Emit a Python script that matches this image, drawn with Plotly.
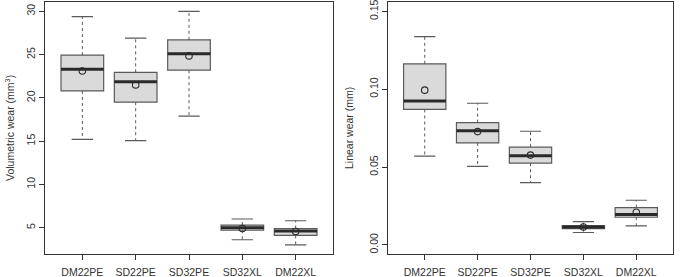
import plotly.graph_objects as go

categories = ["DM22PE", "SD22PE", "SD32PE", "SD32XL", "DM22XL"]

vol_lower = [15.2, 15.05, 17.9, 3.6, 3.0]
vol_q1 = [20.8, 19.5, 23.2, 4.7, 4.1]
vol_median = [23.3, 21.85, 25.1, 5.0, 4.6]
vol_q3 = [24.95, 22.95, 26.7, 5.3, 4.9]
vol_upper = [29.4, 26.9, 30.0, 6.0, 5.8]
vol_mean = [23.1, 21.5, 24.85, 4.9, 4.55]

lin_lower = [0.057, 0.0505, 0.040, 0.008, 0.0122]
lin_q1 = [0.087, 0.0655, 0.0525, 0.0105, 0.0178]
lin_median = [0.0925, 0.0733, 0.0573, 0.0115, 0.0195]
lin_q3 = [0.1163, 0.0785, 0.0628, 0.0124, 0.024]
lin_upper = [0.1338, 0.091, 0.073, 0.015, 0.0287]
lin_mean = [0.0994, 0.0728, 0.0577, 0.0115, 0.021]

vol_ticks = [5, 10, 15, 20, 25, 30]
lin_ticks = [0.00, 0.05, 0.10, 0.15]

BOX_W = 0.8
CAP_HALF = 0.2
FILL = "#DADADA"
EDGE = "#5A5A5A"
DARK = "#2A2A2A"
FONT = "Liberation Sans, Arial, sans-serif"

fig = go.Figure()


def add_panel(lower, q1, med, q3, upper, mean, xa, ya):
    pos = list(range(1, len(categories) + 1))
    for i, p in enumerate(pos):
        fig.add_trace(go.Box(
            x=[p], q1=[q1[i]], median=[med[i]], q3=[q3[i]],
            lowerfence=[q1[i]], upperfence=[q3[i]],
            width=BOX_W, fillcolor=FILL, line=dict(color=EDGE, width=1.2),
            whiskerwidth=0, boxpoints=False, showlegend=False,
            xaxis=xa, yaxis=ya, hoverinfo="skip"))
    wx, wy, cx, cy, mx, my = [], [], [], [], [], []
    for i, p in enumerate(pos):
        wx += [p, p, None, p, p, None]
        wy += [q3[i], upper[i], None, q1[i], lower[i], None]
        cx += [p - CAP_HALF, p + CAP_HALF, None, p - CAP_HALF, p + CAP_HALF, None]
        cy += [upper[i], upper[i], None, lower[i], lower[i], None]
        mx += [p - BOX_W / 2, p + BOX_W / 2, None]
        my += [med[i], med[i], None]
    fig.add_trace(go.Scatter(x=wx, y=wy, mode="lines",
                             line=dict(color=EDGE, width=1, dash="3px,3px"),
                             showlegend=False, xaxis=xa, yaxis=ya, hoverinfo="skip"))
    fig.add_trace(go.Scatter(x=cx, y=cy, mode="lines",
                             line=dict(color=EDGE, width=1.2),
                             showlegend=False, xaxis=xa, yaxis=ya, hoverinfo="skip"))
    fig.add_trace(go.Scatter(x=mx, y=my, mode="lines",
                             line=dict(color=DARK, width=3),
                             showlegend=False, xaxis=xa, yaxis=ya, hoverinfo="skip"))
    fig.add_trace(go.Scatter(x=pos, y=mean, mode="markers",
                             marker=dict(symbol="circle-open", size=6.5,
                                         line=dict(color=DARK, width=1.1), color=DARK),
                             showlegend=False, xaxis=xa, yaxis=ya, hoverinfo="skip"))


add_panel(vol_lower, vol_q1, vol_median, vol_q3, vol_upper, vol_mean, "x", "y")
add_panel(lin_lower, lin_q1, lin_median, lin_q3, lin_upper, lin_mean, "x2", "y2")

axis_common = dict(showline=True, linecolor="#333333", linewidth=1, mirror=True,
                   showgrid=False, zeroline=False, ticks="outside", ticklen=5,
                   tickcolor="#333333", tickfont=dict(family=FONT, size=10.5, color="#333333"),
                   automargin=False, ticklabeloverflow="allow")

ydom = [22.7 / 277, 275 / 277]

fig.update_layout(
    width=680, height=277,
    margin=dict(l=0, r=0, t=0, b=0),
    paper_bgcolor="white", plot_bgcolor="white",
    font=dict(family=FONT, size=10, color="#333333"),
    xaxis=dict(domain=[45 / 680, 333 / 680], range=[0.3, 5.7], ticklabelstandoff=3,
               tickvals=list(range(1, 6)), ticktext=categories, anchor="y", **axis_common),
    yaxis=dict(domain=ydom, range=[1.92, 31.08], tickvals=vol_ticks,
               tickangle=-90, anchor="x", **axis_common),
    xaxis2=dict(domain=[387.7 / 680, 673.3 / 680], range=[0.3, 5.7], ticklabelstandoff=3,
                tickvals=list(range(1, 6)), ticktext=categories, anchor="y2", **axis_common),
    yaxis2=dict(domain=ydom, range=[-0.006, 0.156], tickvals=lin_ticks,
                tickformat=".2f", tickangle=-90, anchor="x2", **axis_common),
    annotations=[
        dict(text="Volumetric wear (mm<sup>3</sup>)", textangle=-90, x=9 / 680, y=1 - 128 / 277,
             xref="paper", yref="paper", showarrow=False, xanchor="center", yanchor="middle",
             font=dict(family=FONT, size=10.5, color="#333333")),
        dict(text="Linear wear (mm)", textangle=-90, x=349 / 680, y=1 - 128 / 277,
             xref="paper", yref="paper", showarrow=False, xanchor="center", yanchor="middle",
             font=dict(family=FONT, size=10.5, color="#333333")),
    ],
)

fig.write_html("out.html", config={"displayModeBar": False},
               post_script="document.body.style.margin='0';document.body.style.padding='0';document.body.style.overflow='hidden';")
